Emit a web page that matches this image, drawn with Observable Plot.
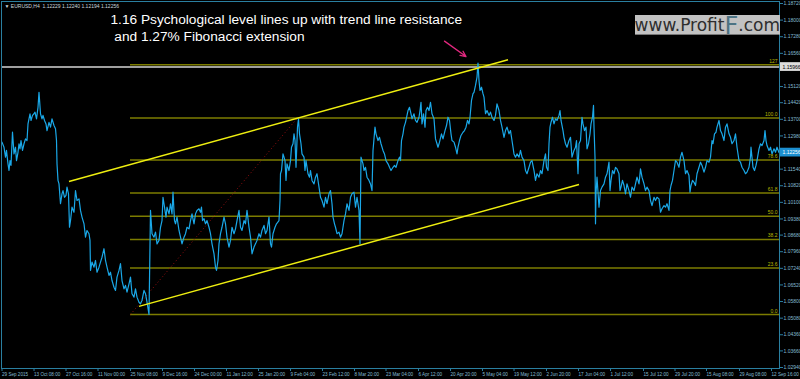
<!DOCTYPE html>
<html><head><meta charset="utf-8">
<script src="https://cdn.jsdelivr.net/npm/d3@7"></script>
<script src="https://cdn.jsdelivr.net/npm/@observablehq/plot@0.6"></script>
<style>html,body{margin:0;padding:0;background:#000;overflow:hidden}</style>
</head><body><div id="chart"></div>
<script>
// ---- header / labels ----
const symbolHeader = "\u25BC EURUSD,H4  1.12229 1.12240 1.12194 1.12256";
const annotationText = "1.16 Psychological level lines up with trend line resistance\n\u00a0and 1.27% Fibonacci extension";
const logoParts = ["www.Profit", "F", ".com"];
const timeLabels = ["29 Sep 2015","13 Oct 08:00","27 Oct 16:00","11 Nov 00:00","25 Nov 08:00","9 Dec 16:00","24 Dec 00:00","11 Jan 12:00","25 Jan 20:00","9 Feb 04:00","23 Feb 12:00","8 Mar 20:00","23 Mar 04:00","6 Apr 12:00","20 Apr 20:00","5 May 04:00","19 May 12:00","2 Jun 20:00","17 Jun 04:00","1 Jul 12:00","15 Jul 12:00","29 Jul 20:00","15 Aug 08:00","29 Aug 08:00","12 Sep 16:00"];
const timeTickBars = [0,64,128,192,257,321,385,449,513,577,641,705,768,833,897,961,1024,1089,1153,1217,1283,1346,1409,1475,1539];
const priceTicks = [1.18720,1.18000,1.17280,1.16560,1.15120,1.14420,1.13700,1.12980,1.11540,1.10820,1.10100,1.09380,1.08680,1.07960,1.07240,1.06520,1.05800,1.05080,1.04360,1.03660,1.02940];

// ---- Fibonacci retracement ----
const fibLevels = [0, 23.6, 38.2, 50.0, 61.8, 78.6, 100.0, 127];
const fibLabels = ["0.0","23.6","38.2","50.0","61.8","78.6","100.0","127"];
const fibLow = 1.0524, fibHigh = 1.1376;
const fibStartBar = 258, fibEndBar = 592;

// ---- drawn objects ----
const whiteLevel = 1.15966;
const lastPrice = 1.12256;
const trendLines = [
  {x1: 135, y1: 1.1100, x2: 1013, y2: 1.1628},
  {x1: 275, y1: 1.0559, x2: 1155, y2: 1.1087}
];
const pointer = [{x1: 886, y1: 1.1709, x2: 929, y2: 1.1642}];

// ---- EURUSD H4 close (bar index, price) ----
const seriesA = [[1,1.1271],[5,1.1249],[8,1.1206],[10,1.1235],[13,1.1177],[15,1.1148],[17,1.1191],[19,1.1170],[22,1.1314],[25,1.1220],[28,1.1249],[30,1.1191],[33,1.1227],[35,1.1264],[37,1.1242],[39,1.1278],[42,1.1235],[45,1.1264],[48,1.1285],[51,1.1278],[53,1.1350],[57,1.1394],[59,1.1365],[62,1.1387],[65,1.1394],[67,1.1401],[70,1.1372],[73,1.1422],[75,1.1487],[78,1.1394],[81,1.1372],[83,1.1387],[86,1.1365],[89,1.1350],[91,1.1321],[95,1.1357],[98,1.1336],[101,1.1372],[105,1.1343],[108,1.1329],[110,1.1278],[111,1.1177],[113,1.1105],[115,1.1090],[118,1.1004],[121,1.1047],[123,1.1061],[126,1.1032],[129,1.1040],[131,1.1076],[134,1.1047],[136,1.0902],[138,1.0931],[141,1.0989],[145,1.0967],[148,1.1061],[151,1.1018],[155,1.1025],[158,1.0975],[161,1.0946],[165,1.0917],[168,1.0859],[171,1.0888],[175,1.0874],[177,1.0845],[178,1.0715],[181,1.0751],[185,1.0729],[188,1.0758],[191,1.0707],[195,1.0729],[198,1.0751],[201,1.0772],[205,1.0809],[208,1.0758],[211,1.0729],[215,1.0693],[218,1.0707],[221,1.0671],[225,1.0642],[228,1.0628],[231,1.0686],[235,1.0715],[238,1.0744],[241,1.0671],[245,1.0635],[248,1.0650],[251,1.0621],[255,1.0657],[258,1.0686],[261,1.0614],[265,1.0599],[268,1.0635],[271,1.0599],[275,1.0577],[278,1.0570],[281,1.0585],[285,1.0628],[288,1.0614],[291,1.0577],[295,1.0524],[298,1.0975],[301,1.0874],[305,1.0859],[308,1.0881],[311,1.0830],[315,1.0845],[318,1.0902],[321,1.0931],[323,1.1032],[326,1.0989],[329,1.0946],[331,1.0989],[335,1.0960],[338,1.1004],[341,1.0960],[343,1.1054],[346,1.0931],[348,1.0917],[351,1.0946],[355,1.0888],[358,1.0859],[361,1.0830],[365,1.0859],[368,1.0874],[371,1.0902],[375,1.0895],[378,1.0931],[381,1.0960],[385,1.0917],[388,1.0960],[391,1.0975],[395,1.0982],[398,1.0967],[400,1.0989],[402,1.0931],[405,1.0939],[408,1.0917],[411,1.0931],[415,1.0902],[418,1.0874],[421,1.0830],[425,1.0787],[428,1.0729],[430,1.0715],[433,1.0758],[435,1.0830],[438,1.0874],[441,1.0902],[445,1.0946],[448,1.0917],[451,1.0859],[455,1.0816],[458,1.0845],[461,1.0902],[465,1.0874],[468,1.0895],[471,1.0931],[475,1.0975],[478,1.0902],[481,1.0888],[485,1.0931],[488,1.0917],[491,1.0975],[495,1.0902],[498,1.0859],[501,1.0787],[505,1.0816],[508,1.0830],[511,1.0845],[515,1.0874],[518,1.0859],[521,1.0888],[525,1.0910],[528,1.0874]];
const seriesB = [[531,1.0888],[535,1.0946],[538,1.0830],[540,1.0816],[543,1.0874],[547,1.0902],[550,1.0917],[555,1.0931],[557,1.1018],[558,1.1134],[560,1.1148],[563,1.1220],[565,1.1206],[567,1.1191],[569,1.1105],[571,1.1177],[575,1.1148],[578,1.1191],[580,1.1249],[583,1.1264],[585,1.1307],[587,1.1278],[589,1.1162],[592,1.1336],[594,1.1372],[596,1.1307],[599,1.1264],[601,1.1220],[605,1.1206],[607,1.1148],[609,1.1191],[613,1.1134],[616,1.1119],[618,1.1148],[621,1.1105],[625,1.1090],[628,1.1119],[631,1.1134],[635,1.1076],[638,1.1032],[641,1.1018],[645,1.0989],[648,1.1032],[651,1.1004],[655,1.1047],[658,1.1061],[661,1.1004],[663,1.0946],[666,1.0917],[668,1.0902],[671,1.0874],[675,1.0881],[678,1.0859],[681,1.0874],[685,1.0931],[688,1.0960],[691,1.1004],[695,1.0975],[698,1.1032],[701,1.1047],[705,1.1054],[708,1.0989],[711,1.1032],[715,1.0975],[717,1.0830],[719,1.1206],[723,1.1177],[725,1.1148],[728,1.1162],[731,1.1119],[735,1.1105],[738,1.1090],[741,1.1061],[743,1.1235],[747,1.1336],[749,1.1307],[753,1.1278],[756,1.1292],[759,1.1264],[763,1.1235],[766,1.1220],[769,1.1191],[773,1.1177],[776,1.1162],[779,1.1148],[783,1.1162],[786,1.1170],[789,1.1162],[793,1.1191],[796,1.1206],[798,1.1191],[800,1.1278],[803,1.1307],[805,1.1336],[808,1.1357],[811,1.1387],[813,1.1408],[816,1.1422],[819,1.1394],[821,1.1372],[825,1.1394],[828,1.1365],[831,1.1357],[835,1.1379],[837,1.1408],[839,1.1444],[841,1.1350],[844,1.1394],[847,1.1336],[849,1.1408],[852,1.1422],[855,1.1408],[858,1.1444],[861,1.1394],[865,1.1372],[868,1.1285],[871,1.1264],[873,1.1249],[876,1.1271],[880,1.1307],[883,1.1285],[887,1.1321],[890,1.1343],[893,1.1379],[896,1.1365],[899,1.1307],[901,1.1278],[905,1.1271],[908,1.1249],[911,1.1220],[913,1.1249],[916,1.1278],[919,1.1300],[923,1.1314],[926,1.1321],[929,1.1336],[932,1.1365],[935,1.1350],[937,1.1379],[940,1.1452],[943,1.1481],[945,1.1487],[948,1.1517],[951,1.1553],[953,1.1614],[955,1.1538],[957,1.1495],[960,1.1509],[963,1.1481],[965,1.1466],[968,1.1394],[971,1.1408],[975,1.1387],[978,1.1401],[981,1.1379],[985,1.1365],[988,1.1387],[991,1.1437],[995,1.1408],[998,1.1365],[1001,1.1336],[1005,1.1292],[1008,1.1321],[1011,1.1336],[1015,1.1307],[1018,1.1321],[1021,1.1278],[1025,1.1220],[1028,1.1206],[1031,1.1220],[1035,1.1206],[1038,1.1235],[1041,1.1206],[1045,1.1191],[1048,1.1148],[1051,1.1134],[1055,1.1162],[1058,1.1184]];
const seriesC = [[1061,1.1191],[1065,1.1148],[1068,1.1105],[1071,1.1134],[1075,1.1119],[1078,1.1148],[1081,1.1134],[1085,1.1191],[1088,1.1220],[1090,1.1162],[1093,1.1148],[1095,1.1264],[1097,1.1336],[1099,1.1357],[1102,1.1379],[1105,1.1350],[1108,1.1372],[1111,1.1365],[1115,1.1387],[1117,1.1408],[1119,1.1365],[1123,1.1321],[1125,1.1292],[1128,1.1264],[1131,1.1249],[1135,1.1278],[1138,1.1292],[1141,1.1206],[1145,1.1235],[1148,1.1249],[1150,1.1278],[1153,1.1134],[1155,1.1264],[1158,1.1278],[1161,1.1379],[1163,1.1350],[1166,1.1321],[1169,1.1336],[1171,1.1242],[1174,1.1264],[1177,1.1307],[1179,1.1350],[1182,1.1379],[1184,1.1430],[1185,1.1336],[1187,1.1206],[1188,1.0917],[1189,1.1047],[1191,1.1119],[1195,1.0989],[1198,1.1061],[1201,1.1076],[1205,1.1090],[1208,1.1119],[1211,1.1134],[1215,1.1184],[1217,1.1061],[1219,1.1105],[1222,1.1148],[1225,1.1134],[1228,1.1162],[1231,1.1155],[1235,1.1134],[1237,1.1061],[1239,1.1076],[1242,1.1105],[1245,1.1083],[1248,1.1047],[1251,1.1090],[1255,1.1061],[1258,1.1032],[1261,1.1076],[1265,1.1061],[1268,1.1090],[1271,1.1119],[1275,1.1090],[1278,1.1155],[1281,1.1119],[1285,1.1090],[1288,1.1061],[1291,1.1076],[1295,1.1061],[1298,1.1018],[1301,1.0996],[1305,1.1032],[1308,1.1018],[1311,1.1032],[1315,1.1025],[1318,1.0967],[1321,1.0982],[1325,1.0996],[1328,1.0989],[1331,1.1004],[1335,1.0975],[1337,1.1061],[1339,1.1083],[1342,1.1105],[1345,1.1148],[1348,1.1191],[1351,1.1184],[1355,1.1162],[1358,1.1206],[1361,1.1227],[1365,1.1191],[1368,1.1134],[1371,1.1148],[1375,1.1126],[1377,1.1054],[1379,1.1083],[1382,1.1105],[1385,1.1097],[1388,1.1083],[1391,1.1134],[1395,1.1162],[1398,1.1184],[1401,1.1170],[1405,1.1141],[1408,1.1162],[1411,1.1191],[1415,1.1184],[1418,1.1206],[1421,1.1278],[1423,1.1264],[1426,1.1307],[1429,1.1314],[1431,1.1336],[1435,1.1365],[1438,1.1321],[1441,1.1307],[1445,1.1278],[1448,1.1336],[1451,1.1350],[1455,1.1307],[1458,1.1292],[1461,1.1264],[1465,1.1278],[1468,1.1307],[1471,1.1249],[1475,1.1191],[1478,1.1184],[1481,1.1162],[1485,1.1148],[1488,1.1134],[1491,1.1141],[1495,1.1162],[1498,1.1206],[1499,1.1249],[1503,1.1162],[1506,1.1148],[1509,1.1170],[1511,1.1191],[1515,1.1242],[1518,1.1264],[1521,1.1256],[1525,1.1278],[1527,1.1321],[1529,1.1278],[1531,1.1256],[1535,1.1235],[1538,1.1249],[1541,1.1220],[1545,1.1242],[1548,1.1227],[1551,1.1249],[1555,1.1226]];

// ---- build ----
const xMax = 1556;
const yDomain = [1.02897, 1.18807];
const series = [...seriesA, ...seriesB, ...seriesC].map(([bar, price]) => ({bar, price}));
const fibData = fibLevels.map((lv, i) => ({label: fibLabels[i], price: fibLow + (fibHigh - fibLow) * lv / 100}));
const fibBase = [{x1: fibStartBar, y1: fibLow, x2: fibEndBar, y2: fibHigh}];
const priceTags = [
  {price: whiteLevel, bg: "#dcdcdc", fg: "#000"},
  {price: lastPrice, bg: "#1c8fd0", fg: "#fff"}
];
const logo = {x1: 1268, x2: 1558, y1: 1.1735, y2: 1.1820};

const axisColor = "#2a7fa0";
const tickText = "#84bcd2";
const font = "'Liberation Sans', Arial, sans-serif";
const logoFont = "'DejaVu Sans', Verdana, sans-serif";

// measure logo parts so they sit flush against the right edge of the box
const ctx = document.createElement("canvas").getContext("2d");
function textWidth(s, size) { ctx.font = size + "px " + logoFont; return ctx.measureText(s).width; }
const logoSizes = [17, 24, 17];
const wCom = textWidth(logoParts[2], logoSizes[2]);
const wF = textWidth(logoParts[1], logoSizes[1]);
const logoOffsets = [-(wCom + wF) - 0.5, -wCom - 0.5, -0.5];
const logoMid = (logo.y1 + logo.y2) / 2;

const chart = Plot.plot({
  width: 800, height: 379,
  marginTop: 1, marginRight: 21, marginBottom: 11, marginLeft: 1,
  style: {background: "#000", fontFamily: font, overflow: "visible"},
  x: {domain: [0, xMax], axis: null},
  y: {domain: yDomain, axis: null},
  marks: [
    Plot.ruleY([whiteLevel], {stroke: "#d4d4d4", strokeWidth: 1.5}),
    Plot.ruleY(fibData, {y: "price", x1: fibStartBar, x2: xMax, stroke: "#7c7c00", strokeWidth: 1.5}),
    Plot.link(fibBase, {x1: "x1", y1: "y1", x2: "x2", y2: "y2", stroke: "#9a1010", strokeWidth: 1, strokeDasharray: "1,2.5"}),
    Plot.line(series, {x: "bar", y: "price", stroke: "#1aa8e8", strokeWidth: 1.2}),
    Plot.link(trendLines, {x1: "x1", y1: "y1", x2: "x2", y2: "y2", stroke: "#eeee10", strokeWidth: 1.5}),
    Plot.text(fibData, {x: xMax, y: "price", text: "label", textAnchor: "end", dx: -2, dy: -3.5, fontSize: 5, fill: "#b8b800"}),
    Plot.arrow(pointer, {x1: "x1", y1: "y1", x2: "x2", y2: "y2", stroke: "#e2287f", strokeWidth: 1.3, headLength: 7, headAngle: 50}),
    Plot.frame({stroke: axisColor}),
    Plot.axisY(priceTicks, {anchor: "right", tickSize: 3, tickPadding: 1, fontSize: 5, stroke: axisColor, color: tickText, tickFormat: d => d.toFixed(5)}),
    Plot.axisX(timeTickBars, {anchor: "bottom", tickSize: 3, tickPadding: 1, fontSize: 4.6, textAnchor: "start", dx: 0.5, stroke: axisColor, color: tickText, tickFormat: d => timeLabels[timeTickBars.indexOf(d)]}),
    Plot.rect(priceTags, {x1: xMax + 2, x2: xMax + 44, y1: d => d.price - 0.0019, y2: d => d.price + 0.0019, fill: "bg"}),
    Plot.text(priceTags, {x: xMax, y: "price", text: d => d.price.toFixed(5), fill: "fg", fontSize: 5, textAnchor: "start", dx: 3}),
    Plot.text([symbolHeader], {frameAnchor: "top-left", text: d => d, dx: 3, dy: 3, fontSize: 5, fill: "#c8d6de", textAnchor: "start", lineAnchor: "top"}),
    Plot.text([{bar: 218, price: 1.1833, text: annotationText}], {x: "bar", y: "price", text: "text", fontSize: 13.7, lineHeight: 1.2, fill: "#ffffff", textAnchor: "start", lineAnchor: "top", fontFamily: font}),
    Plot.rect([logo], {x1: "x1", x2: "x2", y1: "y1", y2: "y2", fill: "#c2c2c2"}),
    Plot.text(logoParts, {x: logo.x2, y: logoMid, text: d => d, textAnchor: "end",
      fontSize: (d, i) => logoSizes[i], fill: (d, i) => i === 1 ? "#4d7383" : "#2e2e2e",
      dx: 0, fontFamily: logoFont}),
  ]
});
// apply per-part offsets for the logo pieces (the last text mark)
const logoTexts = chart.querySelectorAll("g[aria-label='text']");
const lg = logoTexts[logoTexts.length - 1];
lg.querySelectorAll("text").forEach((t, i) => {
  const tr = t.getAttribute("transform") || "";
  t.setAttribute("transform", tr + ` translate(${logoOffsets[i]},${i === 1 ? 1 : 0})`);
  t.setAttribute("font-size", logoSizes[i]);
  t.setAttribute("fill", i === 1 ? "#4d7383" : "#2e2e2e");
});
document.getElementById("chart").append(chart);
</script></body></html>
